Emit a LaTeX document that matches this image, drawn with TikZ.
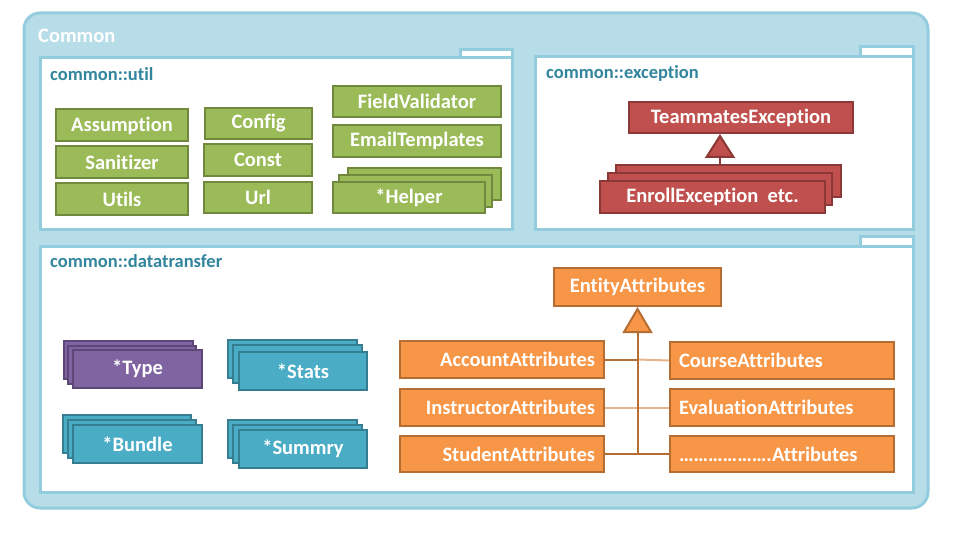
\documentclass[tikz,border=0pt]{standalone}
\usepackage{fontspec}
\setmainfont{Carlito}[Ligatures={NoCommon}]
\usetikzlibrary{arrows.meta}
\definecolor{outerF}{HTML}{B7DDE8}
\definecolor{outerD}{HTML}{93CDDD}
\definecolor{pkgT}{HTML}{31859C}
\definecolor{grF}{HTML}{9BBB59}
\definecolor{grD}{HTML}{71893F}
\definecolor{rdF}{HTML}{C0504D}
\definecolor{rdD}{HTML}{8C3836}
\definecolor{puF}{HTML}{8064A2}
\definecolor{puD}{HTML}{5C4776}
\definecolor{tlF}{HTML}{4BACC6}
\definecolor{tlD}{HTML}{357D91}
\definecolor{orF}{HTML}{F79646}
\definecolor{orD}{HTML}{B66D31}
\definecolor{orL}{HTML}{E8B48C}
\tikzset{
  box/.style={draw, line width=2pt, inner sep=0pt, text=white, font=\fontsize{20.5}{24}\selectfont\bfseries},
  gbox/.style={box, fill=grF, draw=grD},
  rbox/.style={box, fill=rdF, draw=rdD},
  pbox/.style={box, fill=puF, draw=puD},
  tbox/.style={box, fill=tlF, draw=tlD},
  obox/.style={box, fill=orF, draw=orD},
  oleft/.style={obox, inner xsep=9pt, text width=186pt, align=right, minimum height=37pt},
  oright/.style={obox, inner xsep=9pt, text width=206pt, align=left, minimum height=37pt},
  pkg/.style={draw=outerD, fill=white, line width=3pt},
  pkgtitle/.style={anchor=west, text=pkgT, inner sep=0pt, font=\fontsize{18.5}{22}\selectfont\bfseries},
  inhR/.style={draw=rdD, line width=2pt, -{Triangle[length=24pt,width=30pt,fill=rdF,line join=miter]}},
  inhO/.style={draw=orD, line width=2pt, -{Triangle[length=26pt,width=30pt,fill=orF,line join=miter]}},
}
\begin{document}
\begin{tikzpicture}[x=1pt,y=-1pt]
\useasboundingbox (0,0) rectangle (960,537);
% outer package
\draw[draw=outerD, fill=outerF, line width=3pt, rounded corners=16pt] (24,13) rectangle (928,508);
\node[anchor=west, text=white, inner sep=0pt, font=\fontsize{20.5}{24}\selectfont\bfseries] (common) at (38,36) {Common};

% util package
\draw[pkg] (460,50) rectangle (512,58);
\draw[pkg] (40,58) rectangle (512,230);
\node[pkgtitle] (utilT) at (50,74) {common::util};
\node[gbox, minimum width=132pt, minimum height=32pt] (assump) at (122,125.5) {Assumption};
\node[gbox, minimum width=132pt, minimum height=32pt] (sanit) at (122,162) {Sanitizer};
\node[gbox, minimum width=132pt, minimum height=32pt] (utils) at (122,199) {Utils};
\node[gbox, minimum width=107pt, minimum height=31pt] (config) at (258.5,123.5) {Config};
\node[gbox, minimum width=108pt, minimum height=32pt] (const) at (258,160) {Const};
\node[gbox, minimum width=108pt, minimum height=31pt] (url) at (258,197.5) {Url};
\node[gbox, minimum width=168pt, minimum height=31pt] (fieldv) at (417,101.5) {FieldValidator};
\node[gbox, minimum width=168pt, minimum height=32pt] (emailt) at (417,141) {EmailTemplates};
\node[gbox, minimum width=153pt, minimum height=32pt] (helperC) at (424.5,184) {};
\node[gbox, minimum width=153pt, minimum height=32pt] (helperB) at (415.5,191) {};
\node[gbox, minimum width=152pt, minimum height=31pt] (helper) at (409,197.5) {*Helper};

% exception package
\draw[pkg] (860,47) rectangle (913,57);
\draw[pkg] (535,57) rectangle (913,230);
\node[pkgtitle] (excT) at (546,73) {common::exception};
\node[rbox, minimum width=224pt, minimum height=31pt] (team) at (741,117.5) {TeammatesException};
\node[rbox, minimum width=225pt, minimum height=32pt] (enrC) at (728.5,181) {};
\node[rbox, minimum width=224pt, minimum height=32pt] (enrB) at (720,189) {};
\node[rbox, minimum width=225pt, minimum height=32pt] (enroll) at (712.5,197) {EnrollException\ \ etc.};
\coordinate (eatip) at (720,134);
\draw[inhR] (eatip |- enrC.north) -- (eatip);

% datatransfer package
\draw[pkg] (860,237) rectangle (913,246);
\draw[pkg] (40,246) rectangle (913,492);
\node[pkgtitle] (dtT) at (50,261) {common::datatransfer};

\node[pbox, minimum width=129pt, minimum height=38pt] (typeC) at (128.5,360) {};
\node[pbox, minimum width=128pt, minimum height=38pt] (typeB) at (132,365) {};
\node[pbox, minimum width=129pt, minimum height=38pt] (type) at (137.5,369) {*Type};

\node[tbox, minimum width=129pt, minimum height=38pt] (statsC) at (292.5,359) {};
\node[tbox, minimum width=129pt, minimum height=38pt] (statsB) at (297.5,364) {};
\node[tbox, minimum width=128pt, minimum height=38pt] (stats) at (303,371) {*Stats};

\node[tbox, minimum width=128pt, minimum height=38pt] (bundC) at (127,434) {};
\node[tbox, minimum width=128pt, minimum height=38pt] (bundB) at (132,439) {};
\node[tbox, minimum width=129pt, minimum height=38pt] (bundle) at (137.5,444) {*Bundle};

\node[tbox, minimum width=129pt, minimum height=38pt] (sumC) at (292.5,439) {};
\node[tbox, minimum width=129pt, minimum height=38pt] (sumB) at (297.5,444) {};
\node[tbox, minimum width=128pt, minimum height=38pt] (summry) at (303,449) {*Summry};

% attributes
\node[obox, minimum width=167pt, minimum height=38pt] (entity) at (637.5,287) {EntityAttributes};
\node[oleft] (acc) at (502,359.5) {AccountAttributes};
\node[oright] (course) at (782,360.5) {CourseAttributes};
\node[oleft] (instr) at (502,407.5) {InstructorAttributes};
\node[oright] (eval) at (782,407.5) {EvaluationAttributes};
\node[oleft, minimum height=36pt] (stud) at (502,454) {StudentAttributes};
\node[oright, minimum height=36pt] (dots) at (782,454) {……………….Attributes};

\coordinate (vb) at (entity.south |- stud.east);
\draw[orD, line width=2pt] (acc.east) -- (acc.east -| vb);
\draw[orL, line width=2pt] (acc.east -| vb) -- (course.west);
\draw[orL, line width=2pt] (instr.east) -- (eval.west);
\draw[orD, line width=2pt] (stud.east) -- (dots.west);
\draw[inhO] (vb) -- (entity.south);
\end{tikzpicture}
\end{document}
